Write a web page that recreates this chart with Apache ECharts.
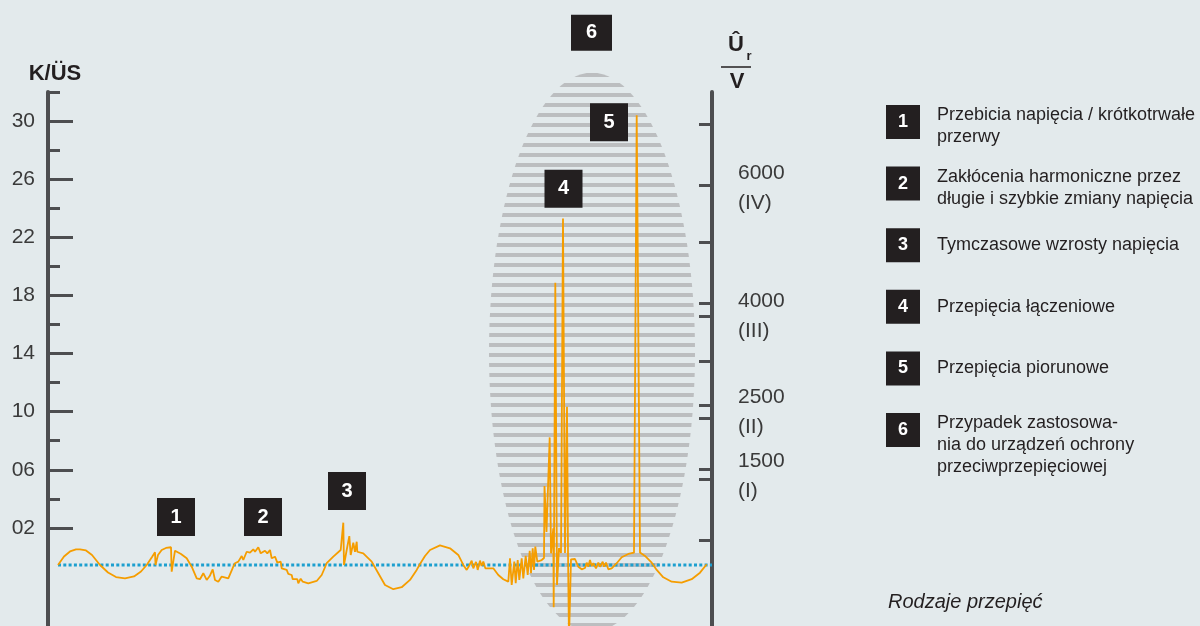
<!DOCTYPE html>
<html>
<head>
<meta charset="utf-8">
<script src="https://cdn.jsdelivr.net/npm/echarts@6.0.0/dist/echarts.min.js"></script>
<style>
  html, body { margin: 0; padding: 0; background: #e3eaec; }
  #chart { width: 1200px; height: 626px; }
</style>
</head>
<body>
<div id="chart"></div>
<script>
// waveform: time (arbitrary units) and K/ÜS
const waveT = [10,16,22,28,32,38,44,52,60,68,77,86,93,98.7,104,107,107.5,110,113.7,118,123,123.7,127,133,138.7,143.7,148.7,152,155.3,158.7,161.7,164.7,167,170.3,173.7,180.3,185.3,187,190.3,
  193.7,195.3,198.7,202,205.3,207,210.3,212.7,217,219.3,222,223.7,227,229.3,232.7,233.7,238.7,240.3,243.7,244.7,249.3,250.3,252.7,254.7,260.3,268.7,273.7,278.7,285.3,292.7,
  295.3,296,298.7,301.3,302.7,305.3,307,308.7,309.3,315.3,323.7,330.3,337,345.3,353.7,362,368.7,372,377,382,392,402,410.3,415.3,418.7,421,423.7,425.3,428,429.7,432,433.5,435.3,437.3,445.3,450.3,455.3,460.3,
  462,463.7,466.3,467.7,469.7,471.3,473.7,475.3,477.7,479.7,481.7,483,484.7,486,487.3,489.3,493.7,496,
  496.5,498.5,501.7,503,505.3,505.7,507.3,509,511,513,515,517,519,520,521,523,527,530.3,533.7,537,538.7,540.3,542,543.7,545.3,548,550.3,552,554.7,556,558,560.3,563.7,568.7,573.7,580.3,586,
  588.7,592,597,603.7,608.7,615.3,623.7,633.7,643.7,652,658.7];
const waveV = [-0.55,0.03,0.38,0.52,0.53,0.45,0.14,-0.55,-1.07,-1.38,-1.47,-1.34,-1.00,-0.55,0,0.32,-0.55,0.14,0.48,0.62,0.67,-1.01,0.43,0.21,-0.09,-0.67,-1.47,-1.53,-1.12,-1.58,-1.31,-0.85,-1.58,-1.70,-1.35,-1.47,-0.67,-0.43,-0.32,
  0.07,-0.21,0.36,0.30,0.53,0.36,0.67,0.25,0.43,0.25,0.48,-0.09,0.02,-0.39,-0.32,-0.78,-0.89,-1.17,-1.24,-1.53,-1.53,-1.81,-1.49,-1.70,-1.81,-1.65,-1.24,-0.43,0.02,0.48,
  2.36,-0.55,0.48,1.44,0.14,0.98,0.36,1.05,0.36,0.25,-0.32,-1.12,-1.93,-2.22,-2.08,-1.58,-0.89,-0.48,0.07,0.48,0.80,0.60,0.14,-0.55,-0.89,-0.62,-0.25,-0.78,-0.34,-0.89,-0.25,-0.62,-0.32,-0.78,-0.78,-1.24,-1.53,-1.70,
  -0.09,-1.93,-0.32,-1.81,-0.21,-1.58,-0.09,-1.47,0.07,-1.24,0.43,-1.12,0.60,-0.89,0.71,-0.32,-0.21,-0.07,
  4.88,1.72,8.23,0.25,1.97,-3.46,18.87,-1.93,0.62,0.28,23.30,0.28,10.34,0.28,-5.7,-0.16,-0.14,-0.67,-0.85,-0.76,-0.39,-0.67,-0.21,-0.62,-0.43,-0.78,-0.39,-0.67,-0.32,-0.67,-0.39,-0.85,-0.78,-0.43,-0.02,0.21,0.30,
  30.40,0.30,0.07,-0.39,-0.89,-1.40,-1.70,-1.77,-1.53,-1.08,-0.50];

// nominal level (dotted line)
const baseT = [10, 664];
const baseV = [-0.55, -0.55];

// numbered markers on the plot
const markT = [128, 215, 299, 515.5, 561, 543.5];
const markV = [2.75, 2.75, 4.54, 25.35, 29.92, 36.08];
const markN = ['1', '2', '3', '4', '5', '6'];

// area "6" (centre and half-extent, in axis units)
const areaCentre = [544, 14.1];
const areaHalf = [103, 19.22];

// left axis K/ÜS
const leftLabels = [2, 6, 10, 14, 18, 22, 26, 30];
const leftMinor = [4, 8, 12, 16, 20, 24, 28, 32];

// right axis Ûr / V
const rightTicks = [7000, 6050, 5150, 4200, 4000, 3300, 2600, 2400, 1600, 1450, 500];
const rightLabels = [6000, 4000, 2500, 1500];
const rightClasses = ['(IV)', '(III)', '(II)', '(I)'];

const legendTexts = [
  'Przebicia napięcia / krótkotrwałe\nprzerwy',
  'Zakłócenia harmoniczne przez\ndługie i szybkie zmiany napięcia',
  'Tymczasowe wzrosty napięcia',
  'Przepięcia łączeniowe',
  'Przepięcia piorunowe',
  'Przypadek zastosowa-\nnia do urządzeń ochrony\nprzeciwprzepięciowej'
];

const FONT = '"Liberation Sans", Arial, Helvetica, sans-serif';
const DARK = '#231f20';
const AXIS = '#4d4e50';

// striped fill for the ellipse
const stripe = document.createElement('canvas');
stripe.width = 8;
stripe.height = 10;
(function () {
  const ctx = stripe.getContext('2d');
  ctx.fillStyle = '#bcbec0';
  ctx.fillRect(0, 3, 8, 4);
})();

const chart = echarts.init(document.getElementById('chart'), null, { renderer: 'canvas' });

const legendGraphics = [];
legendTexts.forEach(function (txt, i) {
  const top = 105 + i * 61.6;
  const multi = txt.indexOf('\n') >= 0;
  legendGraphics.push({
    type: 'rect', shape: { x: 886, y: top, width: 34, height: 34 }, style: { fill: DARK }
  });
  legendGraphics.push({
    type: 'text',
    style: { text: String(i + 1), x: 903, y: top + 17, fill: '#fff', font: 'bold 18px ' + FONT,
      align: 'center', verticalAlign: 'middle', textAlign: 'center', textVerticalAlign: 'middle' }
  });
  legendGraphics.push({
    type: 'text',
    style: { text: txt, x: 937, y: multi ? top - 1 : top + 17, fill: DARK, font: '18px ' + FONT, lineHeight: 22,
      align: 'left', verticalAlign: multi ? 'top' : 'middle', textAlign: 'left', textVerticalAlign: multi ? 'top' : 'middle' }
  });
});

const option = {
  backgroundColor: '#e3eaec',
  animation: false,
  grid: { left: 48, right: 488, top: 92, bottom: 0 },
  xAxis: { type: 'value', min: 0, max: 664, show: false },
  yAxis: [
    {
      type: 'value', position: 'left', min: -4.75, max: 32,
      axisLine: { show: true, lineStyle: { color: AXIS, width: 4 } },
      axisTick: { show: true, inside: true, length: 25, customValues: leftLabels, lineStyle: { color: AXIS, width: 3 } },
      axisLabel: {
        show: true, customValues: leftLabels, margin: 13, color: '#3a3a3a', fontSize: 21, fontFamily: FONT,
        formatter: function (v) { return (v < 10 ? '0' : '') + v; }
      },
      splitLine: { show: false }
    },
    {
      type: 'value', position: 'left', min: -4.75, max: 32,
      axisLine: { show: false },
      axisTick: { show: true, inside: true, length: 12, customValues: leftMinor, lineStyle: { color: AXIS, width: 3 } },
      axisLabel: { show: false },
      splitLine: { show: false }
    },
    {
      type: 'value', position: 'right', min: -843.75, max: 7500,
      axisLine: { show: true, lineStyle: { color: AXIS, width: 4 } },
      axisTick: { show: true, inside: true, length: 13, customValues: rightTicks, lineStyle: { color: AXIS, width: 3 } },
      axisLabel: {
        show: true, customValues: rightLabels, margin: 26, align: 'left', color: '#3a3a3a', fontSize: 21,
        fontFamily: FONT, lineHeight: 30,
        formatter: function (v) { return v + '\n' + rightClasses[rightLabels.indexOf(v)]; }
      },
      splitLine: { show: false }
    }
  ],
  series: [
    {
      type: 'custom',
      coordinateSystem: 'cartesian2d',
      silent: true,
      z: 1,
      encode: { x: 0, y: 1 },
      data: [[areaCentre[0], areaCentre[1], areaHalf[0], areaHalf[1]]],
      renderItem: function (params, api) {
        const c = api.coord([api.value(0), api.value(1)]);
        const s = api.size([api.value(2), api.value(3)]);
        return {
          type: 'ellipse',
          shape: { cx: c[0], cy: c[1], rx: s[0], ry: s[1] },
          style: { fill: { image: stripe, repeat: 'repeat' } }
        };
      }
    },
    {
      type: 'line', z: 2, silent: true, showSymbol: false,
      data: baseT.map(function (t, i) { return [t, baseV[i]]; }),
      lineStyle: { color: '#1d9fcf', width: 3, type: [3, 2.3], cap: 'butt' }
    },
    {
      type: 'line', z: 3, silent: true, showSymbol: false, smooth: false,
      data: waveT.map(function (t, i) { return [t, waveV[i]]; }),
      lineStyle: { color: '#f59d00', width: 1.8 }
    },
    {
      type: 'scatter', z: 4, silent: true, clip: false,
      symbol: 'rect',
      data: markT.map(function (t, i) {
        return { value: [t, markV[i], markN[i]], symbolSize: markN[i] === '6' ? [41, 36] : [38, 38] };
      }),
      itemStyle: { color: DARK, opacity: 1 },
      label: {
        show: true, position: 'inside', color: '#fff', fontWeight: 'bold', fontSize: 20, fontFamily: FONT,
        formatter: function (p) { return p.value[2]; }
      }
    }
  ],
  graphic: [
    { type: 'text', style: { text: 'K/ÜS', x: 55, y: 74, fill: DARK, font: 'bold 22px ' + FONT,
      align: 'center', verticalAlign: 'middle', textAlign: 'center', textVerticalAlign: 'middle' } },
    { type: 'text', style: { text: 'Û', x: 736, y: 45, fill: DARK, font: 'bold 22px ' + FONT,
      align: 'center', verticalAlign: 'middle', textAlign: 'center', textVerticalAlign: 'middle' } },
    { type: 'text', style: { text: 'r', x: 749, y: 56, fill: DARK, font: 'bold 13px ' + FONT,
      align: 'center', verticalAlign: 'middle', textAlign: 'center', textVerticalAlign: 'middle' } },
    { type: 'line', shape: { x1: 721, y1: 67, x2: 751, y2: 67 }, style: { stroke: DARK, lineWidth: 1.5 } },
    { type: 'text', style: { text: 'V', x: 737, y: 82, fill: DARK, font: 'bold 22px ' + FONT,
      align: 'center', verticalAlign: 'middle', textAlign: 'center', textVerticalAlign: 'middle' } },
    { type: 'text', style: { text: 'Rodzaje przepięć', x: 888, y: 602, fill: DARK, font: 'italic 20px ' + FONT,
      align: 'left', verticalAlign: 'middle', textAlign: 'left', textVerticalAlign: 'middle' } }
  ].concat(legendGraphics)
};

chart.setOption(option);
</script>
</body>
</html>
